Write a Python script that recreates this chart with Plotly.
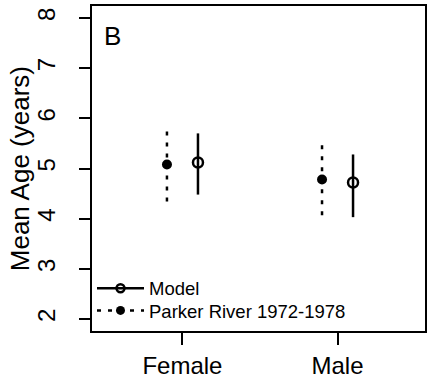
import plotly.graph_objects as go

categories = ["Female", "Male"]
cat_pos = [1, 2]
offset = 0.1

model_mean = [5.12, 4.72]
model_lower = [4.48, 4.03]
model_upper = [5.70, 5.28]

parker_mean = [5.08, 4.78]
parker_lower = [4.34, 4.07]
parker_upper = [5.81, 5.52]

yticks = [2, 3, 4, 5, 6, 7, 8]

FONT = "Liberation Sans, Arial, sans-serif"

def seg(xs, lo, hi):
    X, Y = [], []
    for x, a, b in zip(xs, lo, hi):
        X += [x, x, None]
        Y += [a, b, None]
    return X, Y

x_model = [c + offset for c in cat_pos]
x_park = [c - offset for c in cat_pos]

fig = go.Figure()

mx, my = seg(x_model, model_lower, model_upper)
px, py = seg(x_park, parker_lower, parker_upper)

fig.add_trace(go.Scatter(x=px, y=py, mode="lines", showlegend=False,
                         line=dict(color="black", width=2.5, dash="4px,7px")))
fig.add_trace(go.Scatter(x=mx, y=my, mode="lines", showlegend=False,
                         line=dict(color="black", width=2.5)))
fig.add_trace(go.Scatter(x=x_park, y=parker_mean, mode="markers", showlegend=False,
                         marker=dict(symbol="circle", size=10, color="black")))
fig.add_trace(go.Scatter(x=x_model, y=model_mean, mode="markers", showlegend=False,
                         marker=dict(symbol="circle-open", size=10, color="black",
                                     line=dict(width=2.5, color="black"))))

# legend entries
fig.add_trace(go.Scatter(x=[None], y=[None], mode="lines+markers", name="Model",
                         legend="legend",
                         line=dict(color="black", width=2.5),
                         marker=dict(symbol="circle-open", size=8, color="black",
                                     line=dict(width=2.5, color="black"))))
fig.add_trace(go.Scatter(x=[None], y=[None], mode="lines+markers",
                         name="Parker River 1972-1978", legend="legend2",
                         line=dict(color="black", width=2.5, dash="4px,7px"),
                         marker=dict(symbol="circle", size=9, color="black")))

leg_common = dict(x=0.0, xanchor="left", yanchor="middle",
                  bgcolor="rgba(0,0,0,0)", font=dict(size=18.5, family=FONT),
                  itemwidth=47)

fig.update_layout(
    width=429, height=381,
    margin=dict(l=92, r=2, t=6, b=49),
    plot_bgcolor="white", paper_bgcolor="white",
    font=dict(family=FONT, color="black"),
    showlegend=True,
    legend=dict(y=0.13, **leg_common),
    legend2=dict(y=0.062, **leg_common),
    xaxis=dict(range=[0.4167, 2.564], tickvals=cat_pos, ticktext=categories,
               showline=True, mirror=True, linecolor="black", linewidth=2,
               ticks="outside", ticklen=12, tickwidth=2, tickcolor="black",
               tickfont=dict(size=24), showgrid=False, zeroline=False),
    yaxis=dict(range=[1.76, 8.24], tickvals=yticks,
               showline=True, mirror=True, linecolor="black", linewidth=2,
               ticks="outside", ticklen=11, tickwidth=2, tickcolor="black",
               tickangle=-90, tickfont=dict(size=24), ticklabelstandoff=14,
               showgrid=False, zeroline=False),
    annotations=[
        dict(text="B", x=0.03, y=0.96, xref="paper", yref="paper",
             xanchor="left", yanchor="top", showarrow=False,
             font=dict(size=26, family=FONT)),
        dict(text="Mean Age (years)", x=-0.217, y=0.5, xref="paper", yref="paper",
             xanchor="center", yanchor="middle", textangle=-90, showarrow=False,
             font=dict(size=26, family=FONT)),
    ],
)

fig.write_html("out.html")
